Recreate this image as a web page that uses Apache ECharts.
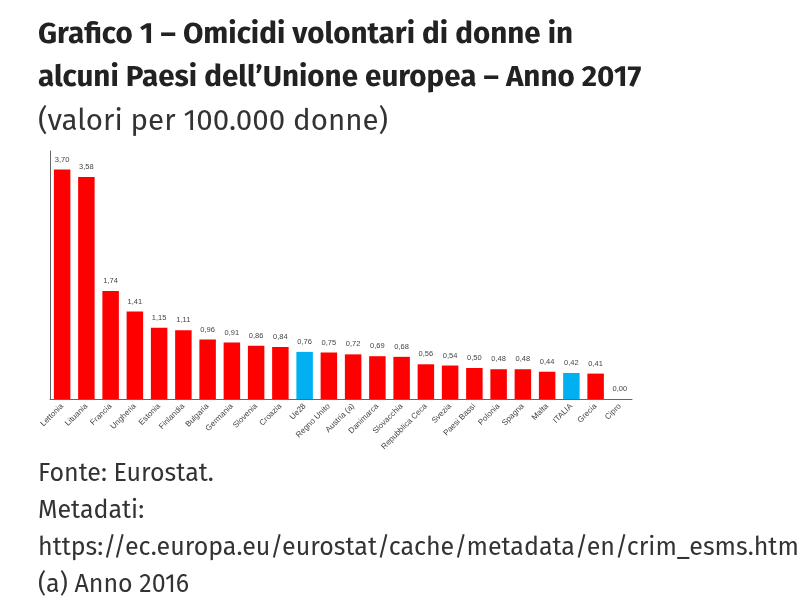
<!DOCTYPE html>
<html>
<head>
<meta charset="utf-8">
<script src="https://cdn.jsdelivr.net/npm/echarts@6/dist/echarts.min.js"></script>
<style>
  html, body { margin: 0; padding: 0; background: #fff; }
  #chart { width: 800px; height: 609px; }
</style>
</head>
<body>
<div id="chart"></div>
<script>
// dati
const paesi = ['Lettonia', 'Lituania', 'Francia', 'Ungheria', 'Estonia', 'Finlandia', 'Bulgaria', 'Germania',
  'Slovenia', 'Croazia', 'Ue28', 'Regno Unito', 'Austria (a)', 'Danimarca', 'Slovacchia', 'Repubblica Ceca',
  'Svezia', 'Paesi Bassi', 'Polonia', 'Spagna', 'Malta', 'ITALIA', 'Grecia', 'Cipro']
const valori = [3.70, 3.58, 1.74, 1.41, 1.15, 1.11, 0.96, 0.91, 0.86, 0.84, 0.76, 0.75, 0.72, 0.69, 0.68, 0.56,
  0.54, 0.50, 0.48, 0.48, 0.44, 0.42, 0.41, 0.00]
const evidenziati = ['Ue28', 'ITALIA']

const chart = echarts.init(document.getElementById('chart'))
const fontTesto = '"Fira Sans", Lato, "Open Sans", sans-serif'

chart.setOption({
  backgroundColor: '#fff',
  animation: false,
  title: [
    {
      text: 'Grafico 1 – Omicidi volontari di donne in\nalcuni Paesi dell’Unione europea – Anno 2017',
      left: 33, top: 8,
      textStyle: { fontFamily: fontTesto, fontWeight: 'bold', fontSize: 29.6, lineHeight: 43, color: '#222' }
    },
    {
      text: '(valori per 100.000 donne)',
      left: 33, top: 99,
      textStyle: { fontFamily: fontTesto, fontWeight: 'normal', fontSize: 29.5, lineHeight: 36, color: '#333' }
    },
    {
      text: 'Fonte: Eurostat.\nMetadati:\nhttps://ec.europa.eu/eurostat/cache/metadata/en/crim_esms.htm\n(a) Anno 2016',
      left: 33, top: 451,
      textStyle: { fontFamily: fontTesto, fontWeight: 'normal', fontSize: 25, lineHeight: 37, color: '#333' }
    }
  ],
  grid: { left: 50, right: 168, top: 151, bottom: 210 },
  xAxis: {
    type: 'category',
    data: paesi,
    axisLine: { lineStyle: { color: '#666', width: 1 } },
    axisTick: { show: false },
    axisLabel: { rotate: 45, interval: 0, fontSize: 8, color: '#444', fontFamily: 'Liberation Sans, Arial', margin: 6 }
  },
  yAxis: {
    type: 'value',
    min: 0, max: 4,
    axisLine: { show: true, lineStyle: { color: '#666', width: 1 } },
    axisTick: { show: false },
    axisLabel: { show: false },
    splitLine: { show: false }
  },
  series: [{
    type: 'bar',
    barCategoryGap: '32%',
    data: valori.map((v, i) => ({
      value: v,
      itemStyle: { color: evidenziati.includes(paesi[i]) ? '#00B0F0' : '#FF0000' }
    })),
    label: {
      show: true,
      position: 'top',
      distance: 6,
      fontSize: 7.5,
      color: '#444',
      fontFamily: 'Liberation Sans, Arial',
      formatter: (p) => p.value.toFixed(2).replace('.', ',')
    }
  }]
})
</script>
</body>
</html>
